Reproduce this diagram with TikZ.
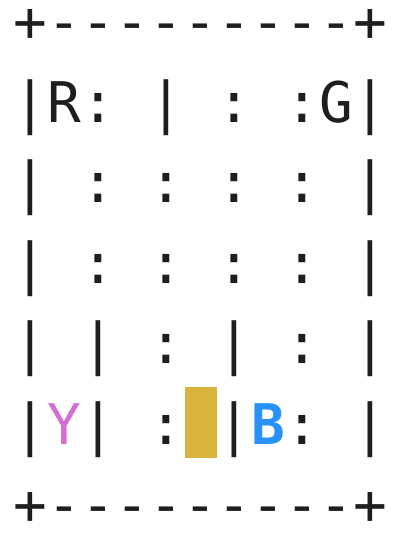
\documentclass[tikz,border=0pt]{standalone}
\usepackage{fontspec}
\setmonofont{DejaVu Sans Mono}
\definecolor{ink}{RGB}{30,30,30}
\definecolor{locY}{RGB}{214,110,210}
\definecolor{locB}{RGB}{40,145,250}
\definecolor{taxi}{RGB}{217,180,60}
\begin{document}
\begin{tikzpicture}[x=1pt,y=-1pt,
        ch/.style={anchor=base,inner sep=0pt,text=ink,font=\ttfamily\fontsize{56}{60}\selectfont}]
        \useasboundingbox (0,0) rectangle (408,546);
        \node[fill=taxi,minimum width=32pt,minimum height=71pt,inner sep=0pt] (taxi) at (201,422.5) {};
        % top and bottom walls
        \foreach \r in {0,6} {
            \node[ch] (r\r-0) at (30,{41.5+80.5*\r}) {+};
            \node[ch] (r\r-10) at (370,{41.5+80.5*\r}) {+};
            \foreach \i in {1,...,9}
                \node[ch] (r\r-\i) at ({30+34*\i},{41.5+80.5*\r}) {-};
        }
        % rows of the grid
        \foreach \i/\ch in {0/|,1/R,2/:,4/|,6/:,8/:,9/G,10/|}
            \node[ch] (r1-\i) at ({30+34*\i},122) {\ch};
        \foreach \r in {2,3}
            \foreach \i/\ch in {0/|,2/:,4/:,6/:,8/:,10/|}
                \node[ch] (r\r-\i) at ({30+34*\i},{41.5+80.5*\r}) {\ch};
        \foreach \i/\ch in {0/|,2/|,4/:,6/|,8/:,10/|}
            \node[ch] (r4-\i) at ({30+34*\i},363.5) {\ch};
        \foreach \i/\ch in {0/|,2/|,4/:,6/|,8/:,10/|}
            \node[ch] (r5-\i) at ({30+34*\i},444) {\ch};
        \node[ch,text=locY] (Y) at (64,444) {Y};
        \node[ch,text=locB,font=\ttfamily\bfseries\fontsize{56}{60}\selectfont] (B) at (268,444) {B};
    \end{tikzpicture}
\end{document}
